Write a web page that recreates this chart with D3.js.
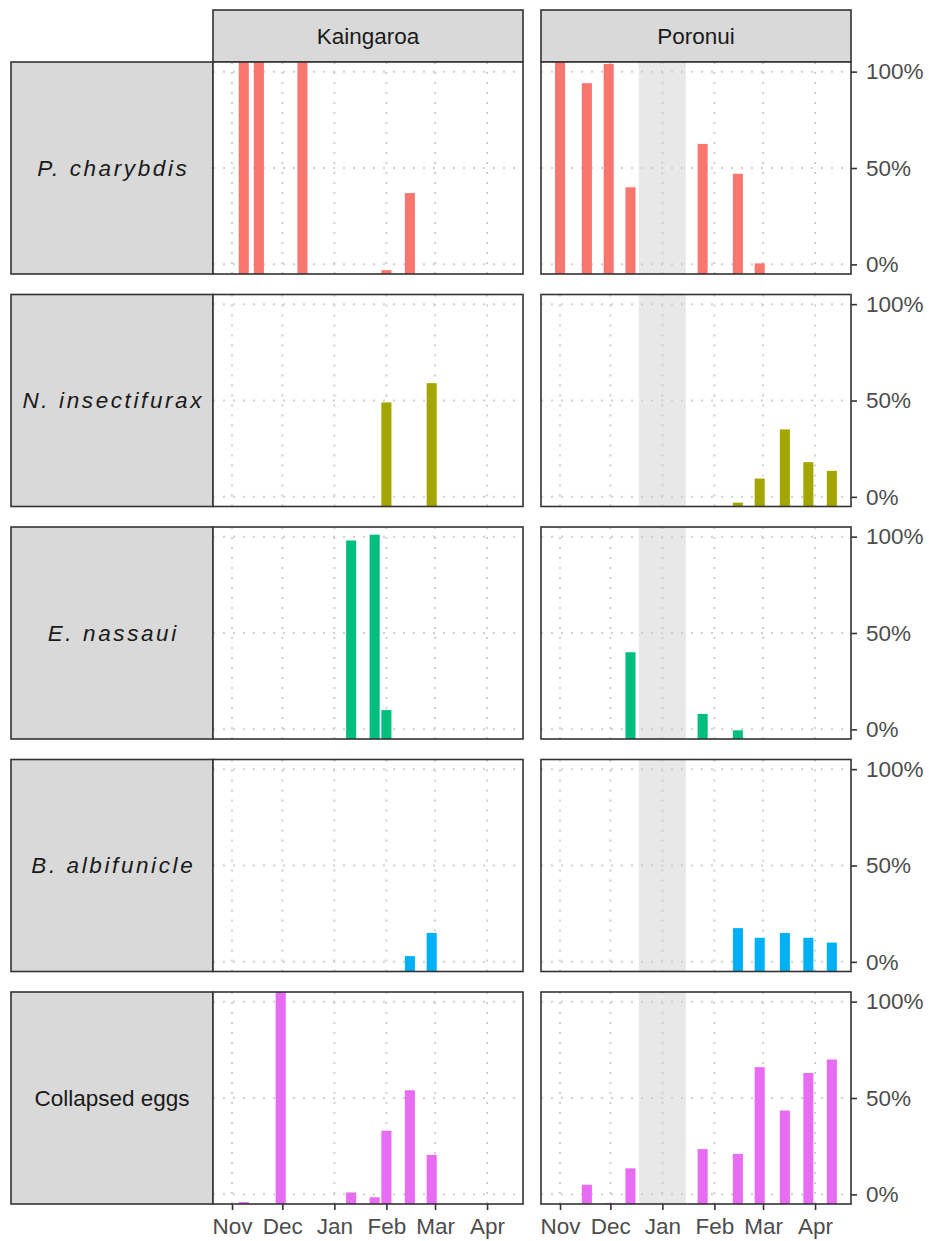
<!DOCTYPE html>
<html>
<head>
<meta charset="utf-8">
<script src="https://cdn.jsdelivr.net/npm/d3@7"></script>
<style>
  body { margin: 0; background: #fff; }
  svg text { font-family: "Liberation Sans", Arial, sans-serif; }
</style>
</head>
<body>
<svg id="chart" width="929" height="1241"></svg>
<script>
// ---- data (percent of samples) ----
const sites = ["Kaingaroa", "Poronui"];
const taxa = ["P. charybdis", "N. insectifurax", "E. nassaui", "B. albifunicle", "Collapsed eggs"];
const taxonColors = ["#F8766D", "#A3A500", "#00BF7D", "#00B0F6", "#E76BF3"];
const italicTaxa = [true, true, true, true, false];

const kaingaroaDates = ["2019-11-08", "2019-11-17", "2019-11-30", "2019-12-13", "2020-01-11",
                        "2020-01-25", "2020-02-01", "2020-02-15", "2020-02-28"];
const poronuiDates = ["2019-11-01", "2019-11-17", "2019-11-30", "2019-12-13", "2020-01-25",
                      "2020-02-15", "2020-02-28", "2020-03-14", "2020-03-28", "2020-04-11"];

// null = nothing drawn for that date
const kaingaroaCharybdis  = [110, 110, null, 110, null, null, -3, 37, null];
const kaingaroaInsect     = [null, null, null, null, null, null, 49, null, 59];
const kaingaroaNassaui    = [null, null, null, null, 98, 101, 10, null, null];
const kaingaroaAlbifun    = [null, null, null, null, null, null, null, 3, 15];
const kaingaroaCollapsed  = [-4, null, 110, null, 1, -1.5, 33, 54, 20.5];

const poronuiCharybdis = [110, 94, 104, 40, 62.5, 47, 0.5, null, null, null];
const poronuiInsect    = [null, null, null, null, null, -3, 9.5, 35, 18, 13.5];
const poronuiNassaui   = [null, null, null, 40, 8, -0.5, null, null, null, null];
const poronuiAlbifun   = [null, null, null, null, null, 17.5, 12.5, 15, 12.5, 10];
const poronuiCollapsed = [null, 5, -4.5, 13.5, 23.5, 21, 66, 43.5, 63, 70];

const yTicks = [0, 50, 100];
const monthTicks = ["2019-11-01", "2019-12-01", "2020-01-01", "2020-02-01", "2020-03-01", "2020-04-01"];
const poronuiGap = ["2019-12-18", "2020-01-15"]; // shaded period, Poronui only

// ---- layout ----
const parse = d3.timeParse("%Y-%m-%d");
const panelW = 310, panelH = 212;
const panelLeft = { Kaingaroa: 213, Poronui: 541 };
const rowTop = i => 62 + i * 232.5;
const fontSize = 22.5;

const seriesBySite = {
  Kaingaroa: { dates: kaingaroaDates, values: [kaingaroaCharybdis, kaingaroaInsect, kaingaroaNassaui, kaingaroaAlbifun, kaingaroaCollapsed] },
  Poronui:   { dates: poronuiDates,   values: [poronuiCharybdis, poronuiInsect, poronuiNassaui, poronuiAlbifun, poronuiCollapsed] }
};

const x = d3.scaleTime()
  .domain([new Date(2019, 9, 20, 16), new Date(2020, 3, 22, 10)])
  .range([0, panelW]);
const y = d3.scaleLinear().domain([-5, 105]).range([panelH, 0]).clamp(true);

const svg = d3.select("#chart");

// column strips
sites.forEach(site => {
  const g = svg.append("g").attr("transform", `translate(${panelLeft[site]},10)`);
  g.append("rect").attr("width", panelW).attr("height", 52)
    .attr("fill", "#d9d9d9").attr("stroke", "#333").attr("stroke-width", 1.6);
  g.append("text").attr("x", panelW / 2).attr("y", 26).attr("dy", "0.35em")
    .attr("text-anchor", "middle").attr("font-size", fontSize).attr("fill", "#1a1a1a")
    .text(site);
});

taxa.forEach((taxon, ti) => {
  const top = rowTop(ti);

  // row strip on the left
  const s = svg.append("g").attr("transform", `translate(11,${top})`);
  s.append("rect").attr("width", 202).attr("height", panelH)
    .attr("fill", "#d9d9d9").attr("stroke", "#333").attr("stroke-width", 1.6);
  s.append("text").attr("x", 101 + (italicTaxa[ti] ? 1.3 : 0)).attr("y", panelH / 2).attr("dy", "0.35em")
    .attr("text-anchor", "middle").attr("font-size", fontSize).attr("fill", "#1a1a1a")
    .attr("font-style", italicTaxa[ti] ? "italic" : "normal")
    .attr("letter-spacing", italicTaxa[ti] ? "2.6px" : "0px")
    .text(taxon);

  sites.forEach(site => {
    const g = svg.append("g").attr("transform", `translate(${panelLeft[site]},${top})`);
    g.append("rect").attr("width", panelW).attr("height", panelH).attr("fill", "#fff");

    if (site === "Poronui") {
      const [a, b] = poronuiGap.map(parse);
      g.append("rect").attr("x", x(a)).attr("width", x(b) - x(a))
        .attr("y", 0).attr("height", panelH).attr("fill", "#e8e8e8");
    }

    // dotted grid
    g.append("g").selectAll("line.vx").data(monthTicks.map(parse)).join("line")
      .attr("x1", d => x(d)).attr("x2", d => x(d)).attr("y1", 0).attr("y2", panelH)
      .attr("stroke", "#cfcfcf").attr("stroke-width", 2).attr("stroke-dasharray", "2 8");
    g.append("g").selectAll("line.hy").data(yTicks).join("line")
      .attr("x1", 0).attr("x2", panelW).attr("y1", d => y(d)).attr("y2", d => y(d))
      .attr("stroke", "#cfcfcf").attr("stroke-width", 2).attr("stroke-dasharray", "2 8");

    // bars
    const ser = seriesBySite[site];
    const bars = ser.dates.map((d, i) => ({ date: parse(d), v: ser.values[ti][i] }))
      .filter(d => d.v !== null);
    g.append("g").selectAll("rect").data(bars).join("rect")
      .attr("x", d => x(d3.timeHour.offset(d.date, -72)))
      .attr("width", d => x(d3.timeHour.offset(d.date, 72)) - x(d3.timeHour.offset(d.date, -72)))
      .attr("y", d => y(d.v))
      .attr("height", d => y(-5) - y(d.v))
      .attr("fill", taxonColors[ti]);

    g.append("rect").attr("width", panelW).attr("height", panelH)
      .attr("fill", "none").attr("stroke", "#333").attr("stroke-width", 1.6);

    // right axis on the Poronui column
    if (site === "Poronui") {
      const ax = g.append("g").attr("transform", `translate(${panelW},0)`)
        .call(d3.axisRight(y).tickValues(yTicks).tickSize(6).tickPadding(9).tickFormat(d => d + "%"));
      ax.select(".domain").remove();
      ax.selectAll("line").attr("stroke", "#333").attr("stroke-width", 1.6);
      ax.selectAll("text").attr("font-size", fontSize).attr("fill", "#4d4d4d")
        .attr("font-family", "Liberation Sans, Arial, sans-serif");
    }

    // month axis under the last row
    if (ti === taxa.length - 1) {
      const ax = g.append("g").attr("transform", `translate(0,${panelH})`)
        .call(d3.axisBottom(x).tickValues(monthTicks.map(parse)).tickSize(6).tickPadding(8)
          .tickFormat(d3.timeFormat("%b")));
      ax.select(".domain").remove();
      ax.selectAll("line").attr("stroke", "#333").attr("stroke-width", 1.6);
      ax.selectAll("text").attr("font-size", fontSize).attr("fill", "#4d4d4d")
        .attr("font-family", "Liberation Sans, Arial, sans-serif");
    }
  });
});
</script>
</body>
</html>
